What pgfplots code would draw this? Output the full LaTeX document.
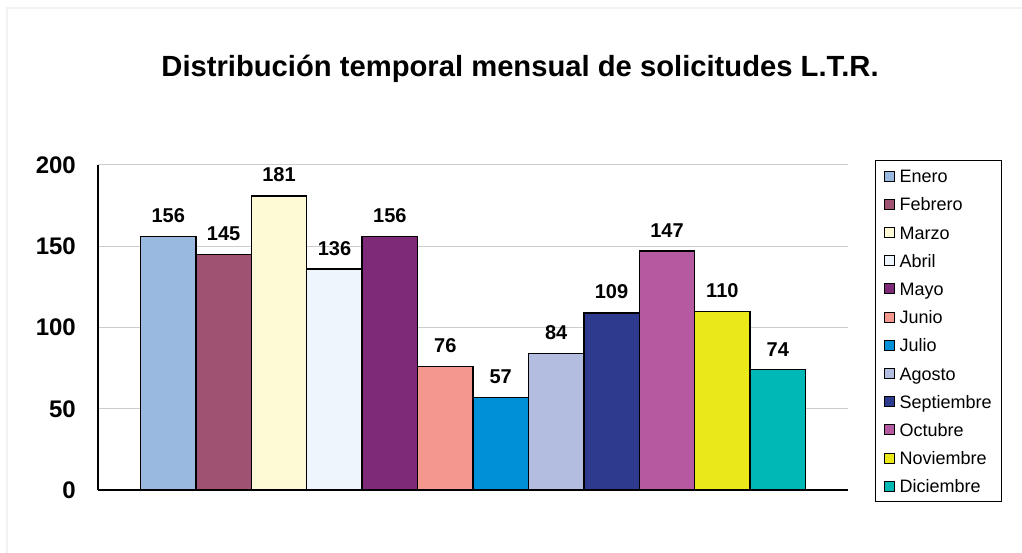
\documentclass[border=0pt]{standalone}
\usepackage{fontspec}
\setmainfont{Liberation Sans}
\usepackage{pgfplots}
\pgfplotsset{compat=1.18}
\definecolor{cEne}{RGB}{153,185,224}
\definecolor{cFeb}{RGB}{160,82,114}
\definecolor{cMar}{RGB}{255,250,214}
\definecolor{cAbr}{RGB}{238,245,253}
\definecolor{cMay}{RGB}{127,42,120}
\definecolor{cJun}{RGB}{244,151,143}
\definecolor{cJul}{RGB}{0,144,216}
\definecolor{cAgo}{RGB}{179,189,223}
\definecolor{cSep}{RGB}{45,58,141}
\definecolor{cOct}{RGB}{181,90,160}
\definecolor{cNov}{RGB}{235,232,26}
\definecolor{cDic}{RGB}{0,184,181}
\begin{document}
\begin{tikzpicture}
\path[use as bounding box] (0pt,0pt) rectangle (1022pt,553pt);
\draw[gray!10, line width=1.5pt] (7pt,0pt) -- (7pt,545pt) -- (1022pt,545pt);
\node[font=\fontsize{29.2}{29.2}\selectfont\bfseries] at (520pt,484pt) {Distribución temporal mensual de solicitudes L.T.R.};
\begin{axis}[
  at={(98pt,63pt)}, anchor=south west,
  scale only axis, width=750pt, height=325pt,
  xmin=-1.267, xmax=12.267, ymin=0, ymax=200,
  ytick={0,50,100,150,200}, xtick=\empty,
  ymajorgrids, grid style={gray!40, line width=1pt},
  axis x line*=bottom, axis y line*=left,
  axis line style={black, line width=1.2pt},
  major tick length=0pt,
  /pgf/number format/assume math mode=true,
  yticklabel style={font=\fontsize{24}{24}\selectfont\bfseries, anchor=east, inner sep=0pt, xshift=-22pt},
  ybar, bar width=1, bar shift=0pt,
  every axis plot/.append style={draw=black, line width=1.4pt},
  nodes near coords,
  nodes near coords style={font=\fontsize{20}{20}\selectfont\bfseries, anchor=south, inner sep=0pt, yshift=13pt},
  legend cell align=left,
  legend style={at={(1.036,1.0154)}, anchor=north west, draw=black, line width=1.1pt,
    font=\fontsize{18}{18}\selectfont, inner xsep=8pt, inner ysep=1.5pt, row sep=0pt, column sep=3pt,
    nodes={text height=15pt, text depth=2pt, inner ysep=5.6pt}},
  legend image code/.code={\draw[#1, line width=1pt] (7pt,-5pt) rectangle (17pt,5pt);},
]
\addplot[fill=cEne] coordinates {(0,156)};
\addplot[fill=cFeb] coordinates {(1,145)};
\addplot[fill=cMar] coordinates {(2,181)};
\addplot[fill=cAbr] coordinates {(3,136)};
\addplot[fill=cMay] coordinates {(4,156)};
\addplot[fill=cJun] coordinates {(5,76)};
\addplot[fill=cJul] coordinates {(6,57)};
\addplot[fill=cAgo] coordinates {(7,84)};
\addplot[fill=cSep] coordinates {(8,109)};
\addplot[fill=cOct] coordinates {(9,147)};
\addplot[fill=cNov] coordinates {(10,110)};
\addplot[fill=cDic] coordinates {(11,74)};
\legend{Enero,Febrero,Marzo,Abril,Mayo,Junio,Julio,Agosto,Septiembre,Octubre,Noviembre,Diciembre}
\end{axis}
\end{tikzpicture}
\end{document}
